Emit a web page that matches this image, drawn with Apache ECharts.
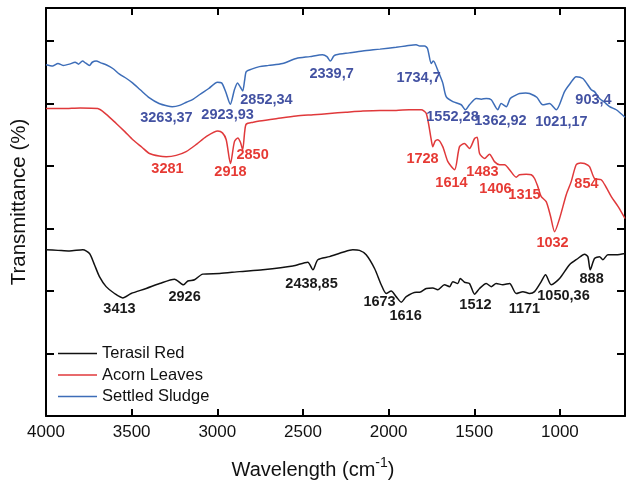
<!DOCTYPE html>
<html>
<head>
<meta charset="utf-8">
<script src="https://cdn.jsdelivr.net/npm/echarts@6/dist/echarts.min.js"></script>
<style>
  html, body { margin: 0; padding: 0; background: #fff; }
  #chart { width: 626px; height: 484px; }
</style>
</head>
<body>
<div id="chart"></div>
<script>
// FTIR spectra: wavenumber (cm-1) vs transmittance (arbitrary offset units)
const seriesNames = ['Terasil Red', 'Acorn Leaves', 'Settled Sludge'];

const terasilRed = [
  [4000,26.6],[3930,26.5],[3863,26.4],[3785,26.6],[3746,26.0],[3717,24.2],[3688,22.3],[3649,20.7],
  [3600,19.6],[3552,18.9],[3503,19.6],[3415,20.4],[3337,21.2],[3250,21.9],[3197,21.0],[3172,21.6],
  [3133,21.8],[3085,22.7],[2987,22.8],[2870,23.1],[2734,23.4],[2559,24.0],[2472,24.6],[2442,23.4],
  [2413,25.0],[2345,25.5],[2267,26.2],[2209,26.6],[2170,26.5],[2131,25.8],[2082,23.6],[2043,21.0],
  [2014,19.6],[1985,20.0],[1956,19.1],[1926,18.2],[1897,19.1],[1839,19.8],[1819,19.8],[1780,20.4],
  [1742,20.5],[1713,20.2],[1674,21.0],[1644,20.7],[1625,21.5],[1596,21.2],[1582,22.0],[1557,21.4],
  [1528,21.2],[1498,19.5],[1469,20.4],[1430,21.2],[1401,20.7],[1372,21.2],[1333,21.0],[1294,21.2],
  [1255,19.6],[1216,19.9],[1177,19.6],[1148,19.9],[1109,21.5],[1084,22.6],[1051,21.0],[1002,22.0],
  [944,24.2],[895,25.2],[856,25.9],[837,25.5],[823,23.4],[798,25.2],[769,25.5],[749,25.0],
  [720,25.8],[671,25.8],[620,26.0]
];

const acornLeaves = [
  [4000,49.2],[3900,49.2],[3800,49.3],[3698,49.2],[3650,48.3],[3590,46.8],[3540,45.5],[3493,44.2],
  [3440,43.0],[3396,42.0],[3340,41.6],[3298,41.5],[3240,41.7],[3182,42.3],[3120,43.5],[3065,44.7],
  [2997,45.6],[2970,45.3],[2948,44.2],[2923,40.4],[2900,43.9],[2880,44.5],[2865,43.8],[2852,42.6],
  [2840,45.5],[2831,46.7],[2790,47.0],[2754,47.2],[2650,47.6],[2539,48.0],[2440,48.2],[2345,48.4],
  [2250,48.6],[2150,48.8],[2050,48.9],[1956,48.9],[1880,49.0],[1810,49.0],[1780,48.4],[1751,44.2],
  [1742,43.1],[1728,44.0],[1713,44.2],[1684,43.1],[1654,40.7],[1615,39.4],[1586,43.1],[1557,43.6],
  [1528,42.8],[1498,44.4],[1483,44.6],[1469,42.0],[1440,41.2],[1411,41.9],[1382,40.7],[1352,40.2],
  [1323,40.2],[1294,39.4],[1255,38.2],[1236,38.6],[1197,38.7],[1167,38.6],[1148,38.0],[1129,36.7],
  [1109,35.1],[1080,34.3],[1055,32.0],[1031,29.5],[1002,31.6],[963,35.4],[934,37.5],[905,40.2],
  [880,40.5],[856,40.4],[827,39.9],[798,38.0],[759,37.8],[730,36.6],[700,35.1],[660,33.5],[620,31.6]
];

const settledSludge = [
  [4000,56.2],[3960,56.0],[3930,56.4],[3900,56.1],[3863,56.3],[3830,56.6],[3810,56.3],[3787,56.8],
  [3770,56.5],[3746,56.1],[3730,56.6],[3707,56.8],[3680,56.5],[3649,56.2],[3610,55.6],[3571,54.7],
  [3530,54.0],[3495,53.3],[3450,52.2],[3396,50.9],[3340,50.0],[3290,49.6],[3263,49.5],[3220,49.7],
  [3180,50.2],[3140,50.7],[3104,51.4],[3050,52.4],[2999,53.4],[2975,53.3],[2950,51.8],[2924,49.9],
  [2900,52.2],[2882,53.3],[2865,52.6],[2852,52.0],[2840,53.8],[2831,55.1],[2800,55.5],[2754,55.9],
  [2700,56.1],[2619,56.4],[2539,57.2],[2460,57.5],[2386,57.8],[2360,57.5],[2340,56.8],[2320,57.6],
  [2306,57.8],[2230,58.1],[2152,58.4],[2050,58.7],[1956,59.0],[1900,59.2],[1839,59.4],[1819,59.2],
  [1790,59.2],[1773,58.8],[1751,56.4],[1740,56.8],[1732,56.6],[1714,55.4],[1684,53.3],[1664,51.1],
  [1625,50.3],[1576,49.8],[1552,49.0],[1528,49.8],[1488,50.8],[1459,50.7],[1430,50.8],[1401,50.6],
  [1363,49.0],[1343,50.0],[1313,49.5],[1290,50.8],[1260,51.3],[1236,51.6],[1200,51.7],[1177,51.6],
  [1135,51.0],[1100,49.8],[1061,50.0],[1021,49.0],[973,51.9],[940,53.2],[905,54.3],[866,54.0],
  [817,52.2],[798,51.9],[769,50.8],[740,50.2],[710,49.5],[671,49.0],[620,47.8]
];

// Peak annotations (text)
const terasilPeakLabels = ['3413','2926','2438,85','1673','1616','1512','1171','1050,36','888'];
const acornPeakLabels = ['3281','2918','2850','1728','1614','1483','1406','1315','1032','854'];
const sludgePeakLabels = ['3263,37','2923,93','2852,34','2339,7','1734,7','1552,28','1362,92','1021,17','903,4'];

const xTickValues = [4000, 3500, 3000, 2500, 2000, 1500, 1000];
const xTickLabels = ['4000', '3500', '3000', '2500', '2000', '1500', '1000'];
const yTickValues = [0, 10, 20, 30, 40, 50, 60];

// ---- layout: where each peak annotation is anchored, in [wavenumber, transmittance]
const terasilLabelAt = [[3571,17.1],[3191,19.0],[2450,21.1],[2053,18.2],[1901,16.0],[1493,17.8],[1207,17.1],[979,19.2],[815,21.9]];
const acornLabelAt = [[3291,39.5],[2923,39.0],[2794,41.8],[1802,41.1],[1633,37.3],[1452,39.0],[1376,36.3],[1207,35.4],[1043,27.7],[845,37.1]];
const sludgeLabelAt = [[3297,47.7],[2940,48.2],[2713,50.6],[2333,54.7],[1825,54.1],[1627,47.8],[1347,47.2],[991,47.0],[804,50.6]];

const FONT = '"Liberation Sans", Arial, Helvetica, sans-serif';
const lineColors = ['#111111', '#e0393b', '#3d6db8'];
const labelColors = ['#1a1a1a', '#e63a34', '#4352a2'];

function peakMarks(texts, coords, color) {
  return {
    symbol: 'rect',
    symbolSize: 1,
    silent: true,
    itemStyle: { color: 'transparent' },
    label: {
      show: true,
      position: 'inside',
      color: color,
      fontFamily: FONT,
      fontWeight: 'bold',
      fontSize: 14.5,
      formatter: p => p.name
    },
    data: texts.map((t, i) => ({ name: t, coord: coords[i] }))
  };
}

const axisLineStyle = { show: true, onZero: false, lineStyle: { color: '#000', width: 2 } };
function xAxisDef(pos, withLabels) {
  return {
    type: 'value', inverse: true, min: 620, max: 4000, position: pos,
    axisLine: axisLineStyle,
    axisTick: { show: true, inside: true, length: 7, customValues: xTickValues, lineStyle: { color: '#000', width: 2 } },
    axisLabel: withLabels ? {
      show: true, customValues: xTickValues, margin: 8, fontSize: 17, color: '#111', fontFamily: FONT,
      formatter: v => xTickLabels[xTickValues.indexOf(v)]
    } : { show: false },
    splitLine: { show: false }
  };
}
function yAxisDef(pos) {
  return {
    type: 'value', min: 0, max: 65.28, position: pos,
    axisLine: axisLineStyle,
    axisTick: { show: true, inside: true, length: 8, customValues: yTickValues, lineStyle: { color: '#000', width: 2 } },
    axisLabel: { show: false },
    splitLine: { show: false }
  };
}

const datasets = [terasilRed, acornLeaves, settledSludge];
const peakTexts = [terasilPeakLabels, acornPeakLabels, sludgePeakLabels];
const peakCoords = [terasilLabelAt, acornLabelAt, sludgeLabelAt];

const chart = echarts.init(document.getElementById('chart'), null, { renderer: 'canvas' });
chart.setOption({
  animation: false,
  backgroundColor: '#fff',
  grid: { left: 46, right: 1, top: 8, bottom: 68, containLabel: false },
  xAxis: [xAxisDef('bottom', true), xAxisDef('top', false)],
  yAxis: [yAxisDef('left'), yAxisDef('right')],
  legend: {
    data: seriesNames,
    orient: 'vertical',
    left: 53, top: 340,
    icon: 'rect',
    itemWidth: 39, itemHeight: 1.6,
    itemGap: 4.5,
    textStyle: { fontSize: 16.5, color: '#111', fontFamily: FONT, lineHeight: 17 },
    selectedMode: false
  },
  graphic: [
    {
      type: 'text', left: 'center', top: 456,
      style: {
        text: '{m|Wavelength (cm}{s|-1}{m|)}',
        rich: {
          m: { fontSize: 20, fontFamily: FONT, fill: '#111', verticalAlign: 'bottom', lineHeight: 24 },
          s: { fontSize: 14, fontFamily: FONT, fill: '#111', verticalAlign: 'top', lineHeight: 24 }
        }
      },
      x: 4
    },
    {
      type: 'text', x: 19, y: 202, rotation: Math.PI / 2,
      style: {
        text: 'Transmittance (%)', fontSize: 20.5, fontFamily: FONT, fill: '#111',
        textAlign: 'center', textVerticalAlign: 'middle'
      }
    }
  ],
  series: datasets.map((d, i) => ({
    name: seriesNames[i],
    type: 'line',
    xAxisIndex: 0, yAxisIndex: 0,
    data: d,
    symbol: 'none',
    smooth: 0.25,
    lineStyle: { color: lineColors[i], width: 1.5 },
    itemStyle: { color: lineColors[i] },
    z: 3 - i,
    markPoint: peakMarks(peakTexts[i], peakCoords[i], labelColors[i])
  }))
});
</script>
</body>
</html>
